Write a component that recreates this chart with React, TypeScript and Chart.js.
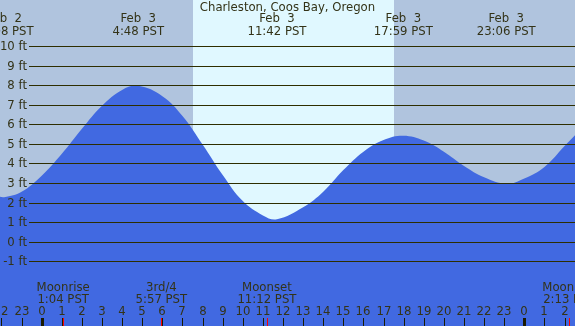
import React, { useEffect, useRef } from "react";
import { Chart, registerables } from "chart.js";

Chart.register(...registerables);

// Tide heights (ft) vs hours since Feb 3 00:00 PST
const hours = [-2.1, -1.87, -1, 0, 1, 2, 3, 4, 4.8, 6, 7, 8, 9, 10, 11, 11.7, 13, 14, 15, 16, 17, 17.98, 19, 20, 21, 22, 23.1, 24, 25, 26, 26.6];
const heights = [2.32, 2.3, 2.58, 3.4, 4.52, 5.8, 6.98, 7.79, 8.0, 7.47, 6.46, 5.0, 3.44, 2.1, 1.37, 1.17, 1.78, 2.58, 3.69, 4.63, 5.23, 5.45, 5.2, 4.63, 3.9, 3.32, 2.99, 3.26, 3.85, 4.92, 5.55];

const feetTicks = [-1, 0, 1, 2, 3, 4, 5, 6, 7, 8, 9, 10];
const hourTicks = [-2, -1, 0, 1, 2, 3, 4, 5, 6, 7, 8, 9, 10, 11, 12, 13, 14, 15, 16, 17, 18, 19, 20, 21, 22, 23, 24, 25, 26];

const tideTimes = [-1.867, 4.8, 11.7, 17.983, 23.1];
const tideDates = ["Feb  2", "Feb  3", "Feb  3", "Feb  3", "Feb  3"];
const tideLabels = ["22:08 PST", "4:48 PST", "11:42 PST", "17:59 PST", "23:06 PST"];

const moonTimes = [1.067, 5.95, 11.2, 26.217];
const moonNames = ["Moonrise", "3rd/4", "Moonset", "Moonrise"];
const moonLabels = ["1:04 PST", "5:57 PST", "11:12 PST", "2:13 PST"];

const sunrise = 7.51;
const sunset = 17.52;

const title = "Charleston, Coos Bay, Oregon";

const X_MIN = -2.074;
const X_MAX = 26.519;
const Y_MIN = -4.29;
const Y_MAX = 12.39;

const TEXT = "#333318";
const LINE = "#2e2e00";
const FONT = "11.7px 'DejaVu Sans'";

const tidePlugin = {
  id: "tidePlugin",
  beforeDatasetsDraw(chart: any) {
    const { ctx, scales } = chart;
    const x = scales.x;
    ctx.save();
    ctx.fillStyle = "#b0c4de";
    ctx.fillRect(0, 0, chart.width, chart.height);
    const x1 = Math.round(x.getPixelForValue(sunrise));
    const x2 = Math.round(x.getPixelForValue(sunset));
    ctx.fillStyle = "#e0f8ff";
    ctx.fillRect(x1, 0, x2 - x1, chart.height);
    ctx.restore();
  },
  afterDatasetsDraw(chart: any) {
    const { ctx, scales } = chart;
    const x = scales.x;
    const y = scales.y;
    const W = chart.width;
    const H = chart.height;
    ctx.save();
    ctx.font = FONT;
    feetTicks.forEach((v) => {
      const py = Math.floor(y.getPixelForValue(v)) + 0.5;
      ctx.strokeStyle = LINE;
      ctx.lineWidth = 1;
      ctx.beginPath();
      ctx.moveTo(29, py);
      ctx.lineTo(W, py);
      ctx.stroke();
      ctx.fillStyle = TEXT;
      ctx.textAlign = "right";
      ctx.textBaseline = "middle";
      ctx.fillText(v + " ft", 27, py);
    });
    ctx.textAlign = "center";
    ctx.textBaseline = "middle";
    ctx.fillStyle = TEXT;
    ctx.fillText(title, W / 2, 7.5);
    tideTimes.forEach((t, i) => {
      const px = x.getPixelForValue(t);
      ctx.fillText(tideDates[i], px, 19);
      ctx.fillText(tideLabels[i], px, 31.5);
    });
    moonTimes.forEach((t, i) => {
      const px = x.getPixelForValue(t);
      ctx.fillText(moonNames[i], px, 287.5);
      ctx.fillText(moonLabels[i], px, 299.5);
    });
    hourTicks.forEach((h) => {
      const px = Math.round(x.getPixelForValue(h));
      const lab = String(((h % 24) + 24) % 24);
      ctx.fillStyle = TEXT;
      ctx.fillText(lab, px, 312);
      ctx.fillStyle = "#1a1a00";
      const w = h % 24 === 0 ? 3 : 1;
      ctx.fillRect(px - Math.floor(w / 2), 318, w, H - 318);
    });
    moonTimes.forEach((t) => {
      const px = Math.round(x.getPixelForValue(t));
      ctx.fillStyle = "#ff0000";
      ctx.fillRect(px, 318, 1, H - 318);
    });
    ctx.restore();
  },
};

export default function App() {
  const ref = useRef<HTMLCanvasElement | null>(null);
  useEffect(() => {
    document.body.style.margin = "0";
    const canvas = ref.current!;
    const chart = new Chart(canvas, {
      type: "line",
      data: {
        datasets: [
          {
            data: hours.map((h, i) => ({ x: h, y: heights[i] })),
            fill: "start",
            backgroundColor: "#4169e1",
            borderColor: "#4169e1",
            borderWidth: 0,
            pointRadius: 0,
            tension: 0.4,
          },
        ],
      },
      options: {
        animation: false,
        responsive: false,
        maintainAspectRatio: false,
        layout: { padding: 0 },
        plugins: { legend: { display: false }, title: { display: false }, tooltip: { enabled: false } },
        scales: {
          x: { type: "linear", min: X_MIN, max: X_MAX, display: false },
          y: { type: "linear", min: Y_MIN, max: Y_MAX, display: false },
        },
      },
      plugins: [tidePlugin],
    });
    return () => chart.destroy();
  }, []);
  return <canvas ref={ref} width={575} height={326} style={{ display: "block" }} />;
}
